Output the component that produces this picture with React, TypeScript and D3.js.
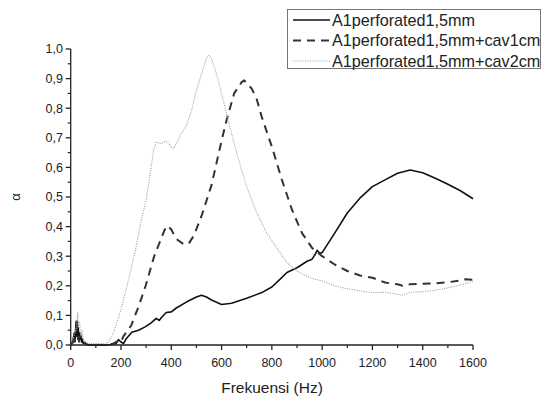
import React from "react";
import * as d3 from "d3";

const xTicks = [0, 200, 400, 600, 800, 1000, 1200, 1400, 1600];
const yTicks = [0, 0.1, 0.2, 0.3, 0.4, 0.5, 0.6, 0.7, 0.8, 0.9, 1.0];
const seriesNames = ["A1perforated1,5mm", "A1perforated1,5mm+cav1cm", "A1perforated1,5mm+cav2cm"];

const freqA = [0, 5, 10, 14, 17, 20, 22, 24, 26, 28, 30, 33, 35, 38, 40, 43, 46, 50, 55, 60, 70, 100, 150, 180, 190, 200, 210, 220, 243, 270, 298, 320, 340, 352, 360, 380, 400, 420, 460, 500, 520, 540, 560, 600, 640, 700, 760, 800, 830, 860, 900, 940, 960, 975, 980, 990, 1000, 1050, 1100, 1150, 1200, 1250, 1300, 1350, 1400, 1450, 1500, 1550, 1600];
const valA = [0, 0.005, 0.02, 0.04, 0.01, 0.06, 0.08, 0.03, 0.08, 0.02, 0.06, 0.01, 0.04, 0.02, 0.035, 0.01, 0.02, 0.005, 0.008, 0.003, 0, 0, 0, 0.005, 0.018, 0.01, 0.005, 0.02, 0.043, 0.05, 0.062, 0.075, 0.09, 0.083, 0.092, 0.11, 0.112, 0.125, 0.145, 0.162, 0.168, 0.162, 0.152, 0.137, 0.141, 0.158, 0.177, 0.196, 0.22, 0.245, 0.261, 0.283, 0.29, 0.31, 0.32, 0.31, 0.312, 0.378, 0.446, 0.496, 0.535, 0.558, 0.58, 0.591, 0.582, 0.563, 0.543, 0.521, 0.494];

const freqB = [0, 10, 20, 25, 30, 40, 50, 60, 70, 100, 150, 170, 190, 200, 210, 240, 270, 298, 332, 353, 374, 385, 400, 420, 450, 470, 490, 520, 560, 600, 620, 650, 680, 690, 720, 740, 760, 800, 840, 880, 920, 960, 1000, 1050, 1100, 1150, 1200, 1250, 1300, 1320, 1350, 1400, 1450, 1500, 1550, 1570, 1600];
const valB = [0, 0.01, 0.03, 0.06, 0.02, 0.03, 0.01, 0.005, 0, 0, 0, 0.005, 0.015, 0.01, 0.03, 0.065, 0.13, 0.2, 0.3, 0.345, 0.39, 0.403, 0.39, 0.358, 0.34, 0.343, 0.37, 0.435, 0.54, 0.69, 0.76, 0.85, 0.888, 0.894, 0.866, 0.83, 0.77, 0.67, 0.558, 0.457, 0.378, 0.328, 0.3, 0.272, 0.25, 0.235, 0.227, 0.211, 0.205, 0.2, 0.205, 0.207, 0.208, 0.212, 0.218, 0.222, 0.22];

const freqC = [0, 10, 20, 25, 28, 30, 35, 40, 45, 50, 60, 70, 100, 140, 150, 170, 200, 230, 260, 280, 300, 320, 330, 340, 360, 380, 400, 410, 420, 440, 460, 480, 500, 520, 540, 550, 560, 580, 600, 620, 650, 680, 700, 740, 780, 820, 860, 900, 950, 1000, 1050, 1100, 1150, 1200, 1250, 1300, 1320, 1350, 1400, 1450, 1500, 1550, 1600];
const valC = [0, 0.02, 0.05, 0.08, 0.11, 0.06, 0.08, 0.03, 0.05, 0.02, 0.01, 0.005, 0.005, 0.005, 0.01, 0.04, 0.12, 0.22, 0.33, 0.42, 0.49, 0.6, 0.66, 0.686, 0.68, 0.69, 0.67, 0.665, 0.68, 0.715, 0.74, 0.79, 0.86, 0.915, 0.97, 0.978, 0.967, 0.916, 0.85, 0.78, 0.68, 0.59, 0.535, 0.446, 0.378, 0.328, 0.278, 0.25, 0.227, 0.216, 0.2, 0.19, 0.183, 0.177, 0.178, 0.171, 0.168, 0.178, 0.18, 0.185, 0.193, 0.203, 0.215];

const W = 543;
const H = 399;
const left = 70.7;
const right = 473;
const top = 49;
const bottom = 345;
const font = "Arimo, 'Liberation Sans', Arial, sans-serif";
const textColor = "#222";

export default function App() {
  const x = d3.scaleLinear().domain([0, 1600]).range([left, right]);
  const y = d3.scaleLinear().domain([0, 1]).range([bottom, top]);
  const line = d3
    .line<[number, number]>()
    .x((d) => x(d[0]))
    .y((d) => y(d[1]));

  const mk = (f: number[], v: number[]) => line(f.map((fx, i) => [fx, v[i]] as [number, number])) || "";

  const series = [
    { d: mk(freqA, valA), stroke: "#111", width: 1.6, dash: "none" },
    { d: mk(freqB, valB), stroke: "#333", width: 2, dash: "8,6" },
    { d: mk(freqC, valC), stroke: "#aaa", width: 1.1, dash: "1.2,1.2" },
  ];

  const xMinor = d3.range(100, 1600, 200);
  const yMinor = d3.range(0.05, 1, 0.1);

  return (
    <svg width={W} height={H} style={{ position: "absolute", left: 0, top: 0, background: "#fff" }}>
      <rect x={0} y={0} width={W} height={H} fill="#fff" />
      {series.map((s, i) => (
        <path key={i} d={s.d} fill="none" stroke={s.stroke} strokeWidth={s.width} strokeDasharray={s.dash} strokeLinejoin="round" />
      ))}
      <line x1={left} x2={left} y1={top} y2={bottom} stroke="#222" strokeWidth={1.3} />
      <line x1={left} x2={right} y1={bottom} y2={bottom} stroke="#222" strokeWidth={1.3} />
      {xTicks.map((t) => (
        <g key={"xt" + t}>
          <line x1={x(t)} x2={x(t)} y1={bottom} y2={bottom + 5} stroke="#222" strokeWidth={1.3} />
          <text x={x(t)} y={367} textAnchor="middle" fontFamily={font} fontSize={12.5} fill={textColor}>
            {t}
          </text>
        </g>
      ))}
      {xMinor.map((t) => (
        <line key={"xm" + t} x1={x(t)} x2={x(t)} y1={bottom} y2={bottom + 3} stroke="#222" strokeWidth={1.2} />
      ))}
      {yTicks.map((t) => (
        <g key={"yt" + t}>
          <line x1={left - 5} x2={left} y1={y(t)} y2={y(t)} stroke="#222" strokeWidth={1.3} />
          <text x={63} y={y(t) + 4.3} textAnchor="end" fontFamily={font} fontSize={12.5} fill={textColor}>
            {t.toFixed(1).replace(".", ",")}
          </text>
        </g>
      ))}
      {yMinor.map((t) => (
        <line key={"ym" + t} x1={left - 3} x2={left} y1={y(t)} y2={y(t)} stroke="#222" strokeWidth={1.2} />
      ))}
      <text x={272} y={393} textAnchor="middle" fontFamily={font} fontSize={15.5} fill={textColor}>
        Frekuensi (Hz)
      </text>
      <text transform={`translate(20,197) rotate(-90)`} textAnchor="middle" fontFamily={font} fontSize={13} fill={textColor}>
        α
      </text>
      <rect x={287.5} y={9.5} width={253} height={59} fill="#fff" stroke="#777" strokeWidth={1} />
      {series.map((s, i) => (
        <g key={"lg" + i}>
          <line x1={293} x2={330} y1={20 + i * 20.5} y2={20 + i * 20.5} stroke={s.stroke} strokeWidth={s.width} strokeDasharray={s.dash} />
          <text x={332} y={25.5 + i * 20.5} fontFamily={font} fontSize={16.2} fill={textColor}>
            {seriesNames[i]}
          </text>
        </g>
      ))}
    </svg>
  );
}
